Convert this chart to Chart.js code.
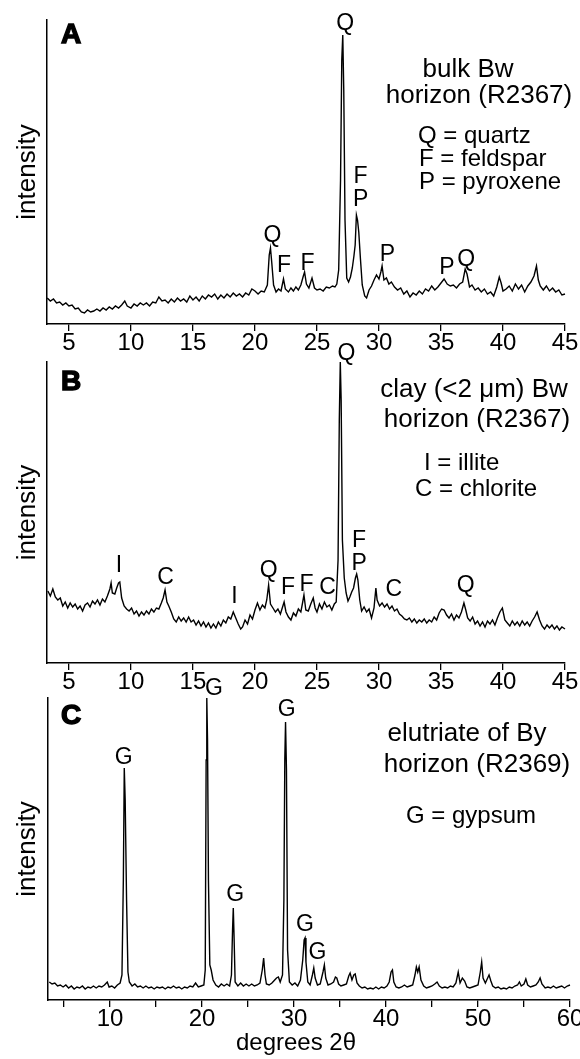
<!DOCTYPE html>
<html>
<head>
<meta charset="utf-8">
<script src="https://cdn.jsdelivr.net/npm/chart.js@4.4.1/dist/chart.umd.min.js"></script>
<style>
  html, body { margin: 0; padding: 0; background: #fff; }
  #wrap { position: relative; width: 580px; height: 1059px; overflow: hidden; }
  canvas { position: absolute; left: 0; }
</style>
</head>
<body>
<div id="wrap">
  <canvas id="chartA" width="580" height="362" style="top:0px"></canvas>
  <canvas id="chartB" width="580" height="370" style="top:330px"></canvas>
  <canvas id="chartC" width="580" height="389" style="top:670px"></canvas>
</div>
<script>
// --- panel A: bulk Bw horizon (R2367) ---
const thetaA = [3.25, 3.5, 3.75, 4.0, 4.25, 4.5, 4.75, 5.0, 5.25, 5.5, 5.75, 6.0, 6.25, 6.5, 6.75, 7.0, 7.25, 7.5, 7.75, 8.0,
  8.25, 8.5, 8.75, 9.0, 9.25, 9.5, 9.7, 10.0, 10.25, 10.5, 10.75, 11.0, 11.25, 11.5, 11.75, 12.0, 12.25, 12.5, 12.75, 13.0,
  13.25, 13.5, 13.75, 14.0, 14.25, 14.5, 14.75, 15.0, 15.25, 15.5, 15.75, 16.0, 16.25, 16.5, 16.75, 17.0, 17.25, 17.5, 17.75, 18.0,
  18.25, 18.5, 18.75, 19.0, 19.25, 19.5, 19.75, 20.0, 20.25, 20.5, 20.75, 21.0, 21.15, 21.25, 21.35, 21.5, 21.7, 21.9, 22.1, 22.3,
  22.45, 22.7, 22.9, 23.1, 23.3, 23.5, 23.7, 23.9, 24.0, 24.15, 24.35, 24.6, 24.8, 25.0, 25.25, 25.5, 25.75, 26.0, 26.25, 26.45,
  26.6, 26.75, 26.9, 27.0, 27.08, 27.16, 27.26, 27.4, 27.55, 27.7, 27.85, 27.98, 28.08, 28.18, 28.27, 28.37, 28.5, 28.65, 28.85, 29.0,
  29.2, 29.4, 29.6, 29.8, 30.0, 30.15, 30.25, 30.4, 30.6, 30.8, 31.0, 31.25, 31.5, 31.75, 32.0, 32.25, 32.5, 32.75, 33.0, 33.25,
  33.5, 33.75, 34.0, 34.25, 34.5, 34.75, 35.0, 35.25, 35.5, 35.75, 36.0, 36.25, 36.5, 36.75, 36.95, 37.1, 37.3, 37.5, 37.75, 38.0,
  38.25, 38.5, 38.75, 39.0, 39.25, 39.5, 39.7, 39.85, 40.0, 40.25, 40.5, 40.75, 41.0, 41.25, 41.5, 41.75, 42.0, 42.25, 42.5, 42.7,
  42.85, 43.0, 43.25, 43.5, 43.75, 44.0, 44.25, 44.5, 44.75, 45.0];
const countsA = [26, 23, 25, 21, 22, 19, 21, 18, 19, 15, 16, 12, 11, 14, 12, 13, 15, 13, 16, 14,
  17, 15, 18, 16, 19, 23, 18, 16, 20, 18, 21, 19, 21, 18, 22, 21, 27, 23, 24, 21,
  25, 22, 26, 23, 25, 22, 28, 24, 27, 23, 28, 25, 29, 27, 30, 25, 29, 26, 30, 27,
  31, 28, 30, 27, 31, 29, 35, 33, 30, 33, 32, 39, 69, 76, 62, 39, 32, 35, 33, 45,
  35, 32, 36, 33, 37, 34, 39, 48, 52, 40, 36, 46, 36, 34, 35, 33, 37, 36, 38, 37,
  40, 54, 144, 264, 289, 234, 104, 46, 42, 47, 56, 68, 79, 109, 104, 92, 66, 39, 28, 26,
  34, 38, 44, 49, 45, 52, 58, 44, 46, 40, 42, 37, 34, 36, 30, 33, 27, 31, 29, 33,
  30, 35, 33, 38, 34, 37, 41, 45, 40, 38, 39, 36, 40, 42, 55, 50, 37, 39, 34, 36,
  32, 35, 30, 32, 28, 37, 47, 41, 33, 35, 38, 33, 40, 35, 39, 32, 38, 42, 48, 58,
  44, 38, 34, 38, 33, 36, 32, 34, 29, 30];

// --- panel B: clay (<2 um) Bw horizon (R2367) ---
const thetaB = [3.3, 3.5, 3.7, 3.9, 4.1, 4.3, 4.5, 4.7, 4.9, 5.1, 5.3, 5.5, 5.7, 5.9, 6.1, 6.3, 6.5, 6.7, 6.9, 7.1,
  7.3, 7.5, 7.7, 7.9, 8.1, 8.3, 8.4, 8.5, 8.7, 8.85, 9.0, 9.1, 9.25, 9.45, 9.65, 9.85, 10.05, 10.25, 10.45, 10.65,
  10.85, 11.05, 11.25, 11.45, 11.65, 11.85, 12.05, 12.25, 12.45, 12.6, 12.75, 12.9, 13.05, 13.25, 13.45, 13.65, 13.85, 14.05, 14.25, 14.45,
  14.65, 14.85, 15.05, 15.25, 15.45, 15.65, 15.85, 16.05, 16.25, 16.45, 16.65, 16.85, 17.05, 17.25, 17.45, 17.65, 17.85, 18.05, 18.25, 18.45,
  18.65, 18.85, 19.0, 19.2, 19.4, 19.6, 19.8, 20.0, 20.2, 20.4, 20.6, 20.8, 20.95, 21.1, 21.25, 21.45, 21.65, 21.85, 22.05, 22.2,
  22.35, 22.5, 22.7, 22.9, 23.1, 23.3, 23.5, 23.7, 23.85, 23.95, 24.1, 24.3, 24.5, 24.7, 24.85, 25.0, 25.2, 25.4, 25.6, 25.8,
  26.0, 26.2, 26.4, 26.55, 26.7, 26.8, 26.88, 26.95, 27.05, 27.2, 27.35, 27.5, 27.65, 27.8, 27.95, 28.1, 28.2, 28.3, 28.45, 28.6,
  28.8, 29.0, 29.2, 29.4, 29.6, 29.75, 29.85, 30.05, 30.25, 30.45, 30.65, 30.85, 31.05, 31.25, 31.45, 31.65, 31.85, 32.05, 32.25, 32.45,
  32.65, 32.85, 33.05, 33.25, 33.45, 33.65, 33.85, 34.05, 34.25, 34.45, 34.65, 34.85, 35.05, 35.25, 35.45, 35.65, 35.85, 36.05, 36.25, 36.45,
  36.65, 36.85, 37.0, 37.15, 37.35, 37.55, 37.75, 37.95, 38.15, 38.35, 38.55, 38.75, 38.95, 39.15, 39.35, 39.55, 39.75, 39.95, 40.15, 40.35,
  40.55, 40.75, 40.95, 41.15, 41.35, 41.55, 41.75, 41.95, 42.15, 42.35, 42.55, 42.75, 42.95, 43.15, 43.35, 43.55, 43.75, 43.95, 44.15, 44.35,
  44.55, 44.75, 45.0];
const countsB = [72, 67, 74, 66, 63, 65, 57, 61, 55, 60, 56, 59, 54, 57, 52, 58, 60, 56, 62, 59,
  63, 58, 64, 61, 67, 74, 80, 70, 69, 75, 80, 81, 65, 57, 54, 52, 55, 49, 52, 47,
  51, 48, 52, 49, 54, 51, 55, 54, 60, 65, 73, 61, 57, 51, 44, 41, 46, 42, 45, 41,
  46, 41, 43, 38, 42, 37, 41, 36, 40, 35, 39, 35, 41, 37, 43, 40, 46, 44, 51, 45,
  39, 34, 36, 43, 39, 48, 44, 53, 60, 53, 58, 55, 63, 78, 59, 55, 51, 54, 49, 55,
  61, 51, 46, 43, 50, 47, 54, 51, 61, 68, 53, 52, 59, 65, 55, 51, 59, 54, 61, 56,
  58, 53, 59, 61, 103, 243, 301, 263, 123, 85, 70, 62, 66, 71, 75, 85, 89, 83, 63, 52,
  56, 51, 54, 45, 55, 75, 63, 57, 60, 56, 59, 54, 57, 52, 54, 49, 47, 44, 43, 45,
  41, 44, 40, 43, 41, 44, 40, 43, 41, 46, 43, 50, 54, 53, 48, 45, 49, 43, 48, 45,
  51, 60, 53, 45, 42, 46, 39, 42, 37, 41, 36, 42, 39, 43, 38, 45, 51, 55, 43, 40,
  37, 42, 38, 41, 37, 42, 38, 41, 37, 42, 46, 51, 43, 37, 34, 38, 35, 38, 34, 37,
  33, 36, 34];

// --- panel C: elutriate of By horizon (R2369) ---
const thetaC = [3.4, 3.7, 4.0, 4.3, 4.6, 4.9, 5.2, 5.5, 5.8, 6.1, 6.4, 6.7, 7.0, 7.3, 7.6, 7.9, 8.2, 8.5, 8.8, 9.1,
  9.4, 9.7, 9.9, 10.2, 10.5, 10.8, 11.1, 11.3, 11.45, 11.55, 11.65, 11.8, 11.95, 12.1, 12.4, 12.7, 13.0, 13.3, 13.6, 13.9,
  14.2, 14.5, 14.8, 15.1, 15.4, 15.7, 16.0, 16.3, 16.6, 16.9, 17.2, 17.5, 17.8, 18.1, 18.4, 18.7, 19.0, 19.3, 19.6, 19.9,
  20.2, 20.35, 20.45, 20.52, 20.6, 20.7, 20.85, 21.0, 21.2, 21.5, 21.8, 22.1, 22.4, 22.7, 23.0, 23.2, 23.32, 23.4, 23.48, 23.6,
  23.9, 24.2, 24.5, 24.8, 25.1, 25.4, 25.7, 26.0, 26.3, 26.55, 26.7, 26.85, 27.0, 27.3, 27.6, 27.9, 28.1, 28.3, 28.5, 28.75,
  28.9, 29.0, 29.08, 29.18, 29.3, 29.5, 29.8, 30.1, 30.4, 30.7, 30.95, 31.1, 31.2, 31.3, 31.5, 31.75, 32.0, 32.15, 32.3, 32.55,
  32.85, 33.15, 33.3, 33.45, 33.7, 34.0, 34.3, 34.5, 34.65, 34.85, 35.1, 35.4, 35.7, 35.95, 36.1, 36.3, 36.5, 36.65, 36.85, 37.1,
  37.4, 37.7, 38.0, 38.3, 38.6, 38.9, 39.2, 39.5, 39.8, 40.1, 40.35, 40.55, 40.7, 40.85, 41.1, 41.4, 41.7, 42.0, 42.3, 42.6,
  42.9, 43.15, 43.3, 43.45, 43.6, 43.8, 44.1, 44.4, 44.7, 45.0, 45.3, 45.55, 45.8, 46.1, 46.4, 46.7, 47.0, 47.3, 47.6, 47.85,
  48.05, 48.3, 48.55, 48.8, 49.1, 49.4, 49.7, 50.0, 50.25, 50.4, 50.55, 50.8, 51.0, 51.2, 51.4, 51.6, 51.9, 52.2, 52.5, 52.8,
  53.1, 53.4, 53.7, 54.0, 54.3, 54.5, 54.7, 55.0, 55.2, 55.4, 55.7, 56.0, 56.3, 56.55, 56.75, 56.95, 57.3, 57.6, 57.9, 58.2,
  58.5, 58.8, 59.1, 59.4, 59.7, 60.0];
const countsC = [18, 16, 17, 14, 15, 13, 15, 12, 14, 11, 13, 12, 14, 11, 13, 12, 14, 12, 14, 13,
  15, 18, 13, 14, 12, 15, 17, 25, 120, 232, 200, 100, 28, 18, 14, 16, 13, 14, 12, 14,
  12, 13, 11, 13, 12, 13, 11, 13, 12, 14, 12, 13, 11, 13, 12, 14, 13, 17, 13, 14,
  15, 30, 240, 302, 260, 120, 35, 30, 20, 15, 13, 16, 14, 16, 14, 25, 70, 92, 65, 18,
  14, 17, 14, 16, 14, 16, 14, 15, 17, 30, 42, 25, 16, 15, 17, 20, 22, 23, 18, 25,
  100, 240, 278, 230, 50, 18, 15, 17, 14, 20, 40, 60, 62, 38, 18, 15, 25, 32, 22, 15,
  16, 28, 35, 22, 15, 16, 18, 23, 22, 16, 14, 15, 16, 24, 27, 20, 25, 26, 17, 14,
  12, 13, 11, 12, 11, 13, 11, 13, 12, 14, 18, 28, 30, 18, 13, 12, 13, 15, 13, 14,
  15, 25, 33, 28, 33, 20, 14, 12, 13, 14, 16, 18, 14, 12, 13, 12, 14, 13, 17, 28,
  17, 22, 19, 13, 12, 13, 14, 15, 28, 38, 22, 17, 21, 25, 19, 14, 12, 13, 11, 12,
  11, 13, 12, 14, 15, 18, 14, 16, 21, 15, 13, 14, 15, 18, 22, 16, 12, 13, 12, 14,
  12, 13, 14, 12, 14, 15];

// axis ticks
const ticksAB = [5, 10, 15, 20, 25, 30, 35, 40, 45];
const ticksC = [5, 10, 15, 20, 25, 30, 35, 40, 45, 50, 55, 60];
const tickLabelsC = ["", "10", "", "20", "", "30", "", "40", "", "50", "", "60"];

// peak labels: [mineral letter, 2theta, intensity at label baseline]
const peaksA = [["Q", 27.28, 294], ["Q", 21.41, 82], ["F", 22.34, 52], ["F", 24.23, 54], ["F", 28.52, 141],
  ["P", 28.52, 118], ["P", 30.69, 63], ["P", 35.48, 50], ["Q", 37.04, 58]];
const peaksB = [["Q", 27.38, 303], ["I", 9.03, 91], ["C", 12.78, 79], ["I", 18.35, 60], ["Q", 21.1, 86],
  ["F", 22.66, 69], ["F", 24.15, 72], ["C", 25.85, 69], ["F", 28.4, 116], ["P", 28.4, 93],
  ["C", 31.2, 67], ["Q", 37.0, 71]];
const peaksC = [["G", 11.5, 236], ["G", 21.3, 305], ["G", 29.2, 284], ["G", 23.6, 99], ["G", 31.2, 69], ["G", 32.55, 41]];

const FONT = '"Liberation Sans", Arial, Helvetica, sans-serif';

const textPlugin = {
  id: "xrdText",
  afterDraw(chart, args, opts) {
    const ctx = chart.ctx;
    const xs = chart.scales.x;
    const ys = chart.scales.y;
    ctx.save();
    ctx.fillStyle = "#000";
    ctx.strokeStyle = "#000";
    ctx.textBaseline = "alphabetic";

    // panel letter, heavy
    ctx.font = "bold 28px " + FONT;
    ctx.textAlign = "left";
    ctx.lineWidth = 1.4;
    ctx.fillText(opts.letter, 61, opts.letterY - opts.top);
    ctx.strokeText(opts.letter, 61, opts.letterY - opts.top);

    ctx.font = "23px " + FONT;
    ctx.textAlign = "center";
    opts.peaks.forEach(([t, deg, val]) => {
      ctx.fillText(t, xs.getPixelForValue(deg), ys.getPixelForValue(val));
    });

    opts.notes.forEach((n) => {
      ctx.font = n.size + "px " + FONT;
      ctx.textAlign = n.align;
      ctx.fillText(n.text, n.x, n.y - opts.top);
    });
    ctx.restore();
  }
};

function makeChart(id, theta, counts, cfg) {
  return new Chart(document.getElementById(id), {
    type: "line",
    data: {
      datasets: [{
        data: theta.map((t, i) => ({ x: t, y: counts[i] })),
        borderColor: "#000",
        borderWidth: 1.4,
        pointRadius: 0,
        tension: 0,
        fill: false,
        clip: false
      }]
    },
    options: {
      responsive: false,
      animation: false,
      layout: { padding: { top: cfg.padTop, right: cfg.padRight, left: 0, bottom: 0 } },
      plugins: {
        legend: { display: false },
        tooltip: { enabled: false },
        xrdText: cfg.text
      },
      scales: {
        x: {
          type: "linear",
          min: cfg.xMin,
          max: cfg.xMax,
          afterBuildTicks: (s) => { s.ticks = cfg.ticks.map((v) => ({ value: v })); },
          afterFit: (s) => { s.height = cfg.xHeight; s.paddingLeft = 0; s.paddingRight = 0; },
          grid: { display: true, drawOnChartArea: false, drawTicks: true, tickLength: 7, color: "#000", lineWidth: 1.3 },
          border: { display: true, color: "#000", width: 1.5 },
          ticks: {
            color: "#000",
            padding: 0,
            maxRotation: 0,
            autoSkip: false,
            font: { family: FONT, size: 24, lineHeight: 1 },
            callback: (v, i) => cfg.tickLabels[i]
          }
        },
        y: {
          min: 0,
          max: cfg.yMax,
          afterFit: (s) => { s.width = cfg.yWidth; },
          ticks: { display: false },
          grid: { display: false },
          border: { display: true, color: "#000", width: 1.5 },
          title: {
            display: true,
            text: "intensity",
            color: "#000",
            font: { family: FONT, size: 26, lineHeight: 1.2 },
            padding: { top: 12, bottom: 0 }
          }
        }
      }
    },
    plugins: [textPlugin]
  });
}

makeChart("chartA", thetaA, countsA, {
  padTop: 20, padRight: 15, xMin: 3.23, xMax: 45, yMax: 304, xHeight: 38, yWidth: 47,
  ticks: ticksAB, tickLabels: ticksAB.map(String),
  text: {
    top: 0, letter: "A", letterY: 43, peaks: peaksA,
    notes: [
      { text: "bulk Bw", x: 468, y: 77, size: 26, align: "center" },
      { text: "horizon (R2367)", x: 479, y: 103, size: 26, align: "center" },
      { text: "Q = quartz", x: 418, y: 143, size: 24, align: "left" },
      { text: "F = feldspar", x: 419, y: 166, size: 24, align: "left" },
      { text: "P = pyroxene", x: 419, y: 189, size: 24, align: "left" }
    ]
  }
});

makeChart("chartB", thetaB, countsB, {
  padTop: 32, padRight: 15, xMin: 3.23, xMax: 45, yMax: 301, xHeight: 37, yWidth: 47,
  ticks: ticksAB, tickLabels: ticksAB.map(String),
  text: {
    top: 330, letter: "B", letterY: 390, peaks: peaksB,
    notes: [
      { text: "clay (<2 \u03bcm) Bw", x: 474, y: 397, size: 26, align: "center" },
      { text: "horizon (R2367)", x: 477, y: 427, size: 26, align: "center" },
      { text: "I = illite", x: 424, y: 470, size: 24, align: "left" },
      { text: "C = chlorite", x: 415, y: 496, size: 24, align: "left" }
    ]
  }
});

makeChart("chartC", thetaC, countsC, {
  padTop: 28, padRight: 10, xMin: 3.26, xMax: 60, yMax: 302, xHeight: 59, yWidth: 48,
  ticks: ticksC, tickLabels: tickLabelsC,
  text: {
    top: 670, letter: "C", letterY: 724, peaks: peaksC,
    notes: [
      { text: "elutriate of By", x: 467, y: 741, size: 26, align: "center" },
      { text: "horizon (R2369)", x: 477, y: 772, size: 26, align: "center" },
      { text: "G = gypsum", x: 471, y: 823, size: 24, align: "center" },
      { text: "degrees 2\u03b8", x: 296, y: 1050, size: 24, align: "center" }
    ]
  }
});
</script>
</body>
</html>
